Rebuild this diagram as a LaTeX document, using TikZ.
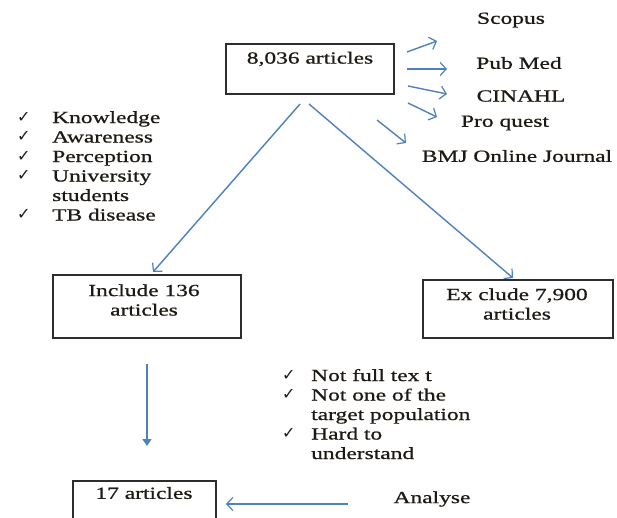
\documentclass[tikz,border=0pt]{standalone}
\usepackage{fontspec}
\setmainfont{Liberation Serif}[FakeStretch=1.38,FakeBold=0.8]
\newfontfamily\symfont{DejaVu Sans}
\usetikzlibrary{arrows.meta}
\definecolor{arrowblue}{RGB}{79,129,189}
\definecolor{boxline}{RGB}{45,45,45}
\definecolor{txt}{RGB}{30,25,20}
\newcommand{\chk}{\makebox[0pt][l]{\raisebox{1pt}{\symfont\fontsize{16}{16}\selectfont ✓}}}
\begin{document}
\begin{tikzpicture}[x=1pt,y=-1pt,
  every node/.style={text=txt,font=\fontsize{17}{19.5}\selectfont,inner sep=0pt},
  box/.style={draw=boxline,line width=1.6pt,fill=none},
  link/.style={draw=arrowblue,line width=1.4pt,-{Straight Barb[length=6pt,width=13pt,line width=1.2pt]}},
  downlink/.style={draw=arrowblue,line width=1.4pt,-{Triangle[length=7pt,width=9pt]}},
  lbl/.style={anchor=center}
]
\useasboundingbox (0,0) rectangle (617,517);
\clip (0,0) rectangle (617,517);
\fill[white] (0,0) rectangle (617,517);

% boxes
\node[box,minimum width=168pt,minimum height=50pt] (top) at (310,69) {};
\node[lbl] (toptext) at (310,59) {8,036 articles};

\node[box,minimum width=188pt,minimum height=63pt] (inc) at (147,306.5) {};
\node[lbl,align=center] (inctext) at (144,300) {Include 136\\articles};

\node[box,minimum width=190pt,minimum height=58pt] (exc) at (518,309) {};
\node[lbl,align=center] (exctext) at (517,304) {Ex clude 7,900\\articles};

\node[box,minimum width=143pt,minimum height=50pt,anchor=north] (sev) at (144.5,480) {};
\node[lbl] (sevtext) at (144,493) {17 articles};

% database labels
\node[lbl] (scopus) at (511,20) {Scopus};
\node[lbl] (pubmed) at (519,63) {Pub Med};
\node[lbl] (cinahl) at (521,96) {CINAHL};
\node[lbl] (proquest) at (505,123) {Pro quest};
\node[lbl] (bmj) at (517,156) {BMJ Online Journal};
\node[lbl] (analyse) at (432,499) {Analyse};

% database arrow coordinates
\coordinate (s1) at (407,52);  \coordinate (s2) at (437,41);
\coordinate (p1) at (407,69);  \coordinate (p2) at (447,69);
\coordinate (c1) at (408,86);  \coordinate (c2) at (447,94);
\coordinate (q1) at (408,103); \coordinate (q2) at (437,117);
\coordinate (b1) at (377,120); \coordinate (b2) at (406,143);
\draw[link] (s1) -- (s2);
\draw[link] (p1) -- (p2);
\draw[link] (c1) -- (c2);
\draw[link] (q1) -- (q2);
\draw[link] (b1) -- (b2);

% split arrows
\coordinate (l1) at (300,104); \coordinate (l2) at (153,272);
\coordinate (r1) at (309,104); \coordinate (r2) at (513,278);
\draw[link] (l1) -- (l2);
\draw[link] (r1) -- (r2);

% down arrow and analyse arrow
\coordinate (d1) at (147,364); \coordinate (d2) at (147,446);
\draw[downlink] (d1) -- (d2);
\coordinate (a1) at (348,504); \coordinate (a2) at (226,504);
\draw[link] (a1) -- (a2);

% checklists
\node[anchor=base west,align=left] (crit) at (17,123) {%
\begin{tabular}[t]{@{}p{35pt}@{}l@{}}
\chk & Knowledge\\
\chk & Awareness\\
\chk & Perception\\
\chk & University\\
     & students\\
\chk & TB disease
\end{tabular}};

\node[anchor=base west,align=left] (excl) at (282,381) {%
\begin{tabular}[t]{@{}p{29pt}@{}l@{}}
\chk & Not full tex t\\
\chk & Not one of the\\
     & target population\\
\chk & Hard to\\
     & understand
\end{tabular}};
\end{tikzpicture}
\end{document}
